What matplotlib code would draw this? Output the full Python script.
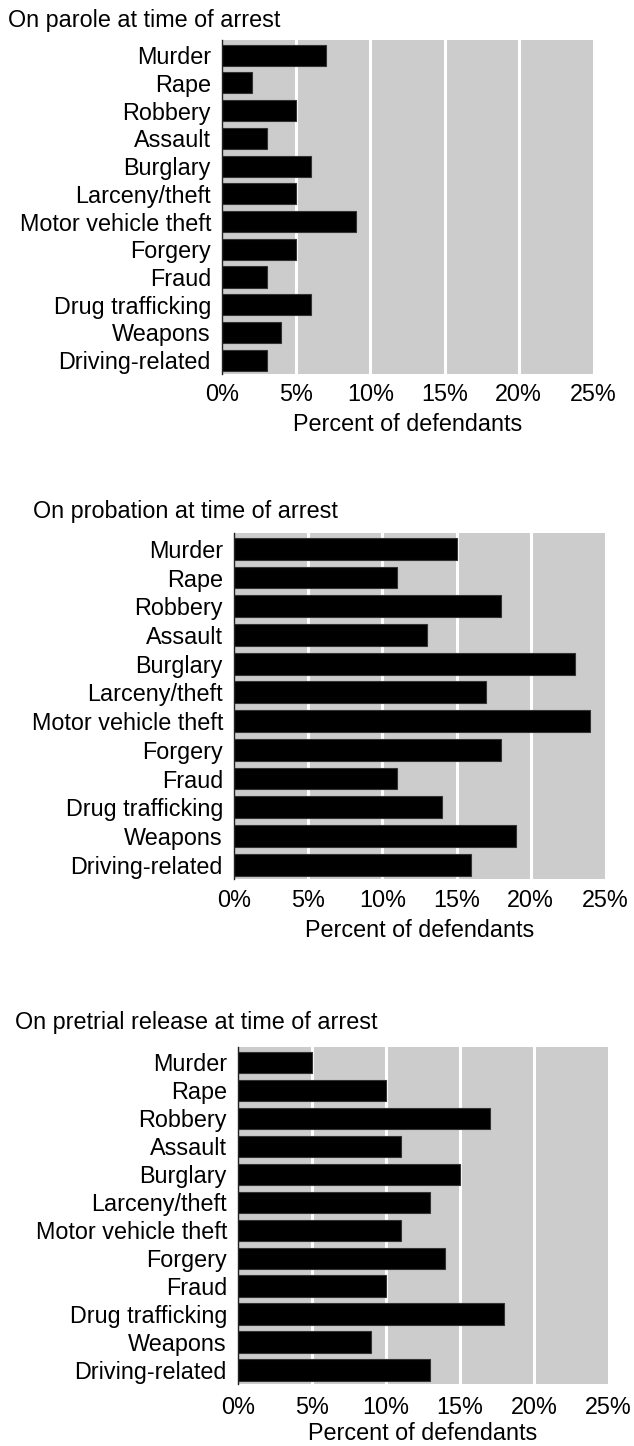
import matplotlib
matplotlib.use("Agg")
import matplotlib.pyplot as plt
from matplotlib.ticker import FuncFormatter

plt.rcParams['font.family'] = ['Liberation Sans', 'DejaVu Sans']

categories = ["Murder", "Rape", "Robbery", "Assault", "Burglary", "Larceny/theft",
              "Motor vehicle theft", "Forgery", "Fraud", "Drug trafficking",
              "Weapons", "Driving-related"]
parole = [7, 2, 5, 3, 6, 5, 9, 5, 3, 6, 4, 3]
probation = [15, 11, 18, 13, 23, 17, 24, 18, 11, 14, 19, 16]
pretrial = [5, 10, 17, 11, 15, 13, 11, 14, 10, 18, 9, 13]
titles = ["On parole at time of arrest", "On probation at time of arrest",
          "On pretrial release at time of arrest"]
xticks = [0, 5, 10, 15, 20, 25]
xlabel = "Percent of defendants"

W, H = 634, 1446
fig = plt.figure(figsize=(W / 100, H / 100), dpi=100)

# pixel boxes: left, right, top, bottom ; title x,y ; xlabel y ; tick label y
panels = [
    (parole, (222, 593, 40, 374), (8, 20), 424, 393),
    (probation, (234, 605, 533, 879), (33, 511), 930, 899),
    (pretrial, (238, 608, 1047, 1384), (15, 1022), 1434, 1406),
]

FS = 16.8
for (vals, (l, r, t, b), (tx, ty), xly, tly), title in zip(panels, titles):
    ax = fig.add_axes([l / W, 1 - b / H, (r - l) / W, (b - t) / H])
    ax.set_facecolor('#cccccc')
    ypos = list(range(len(categories)))
    ax.barh(ypos, vals, height=0.76, color='black', edgecolor='#333333', linewidth=0.8, zorder=3)
    ax.set_xlim(0, 25)
    ax.set_ylim(len(categories) - 0.5, -0.55)
    ax.set_yticks(ypos)
    ax.set_yticklabels(categories, fontsize=FS)
    ax.set_xticks(xticks)
    ax.xaxis.set_major_formatter(FuncFormatter(lambda v, p: f"{int(v)}%"))
    ax.tick_params(axis='x', length=0, labelsize=FS, pad=(tly - b) * 0.72 - 7)
    ax.tick_params(axis='y', length=0, pad=8)
    for g in xticks[1:-1]:
        ax.axvline(g, color='white', lw=2.2, zorder=2)
    for s in ['top', 'right', 'bottom']:
        ax.spines[s].set_visible(False)
    ax.spines['left'].set_color('#222222')
    ax.spines['left'].set_linewidth(1.0)
    ax.spines['left'].set_zorder(4)
    fig.text(tx / W, 1 - ty / H, title, fontsize=FS, ha='left', va='center')
    fig.text(((l + r) / 2) / W, 1 - xly / H, xlabel, fontsize=FS, ha='center', va='center')

fig.savefig("out.png", dpi=100)
